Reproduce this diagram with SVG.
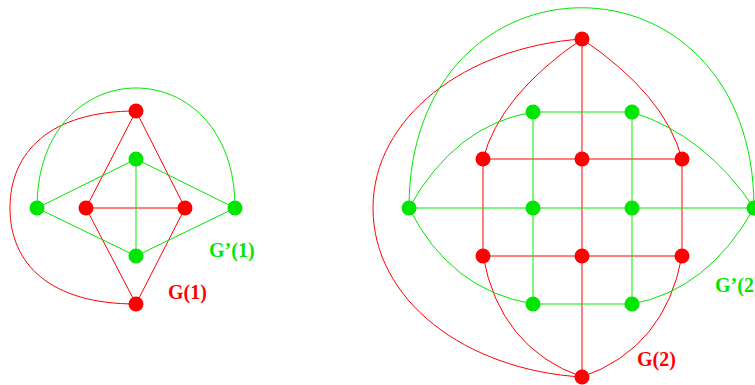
<svg xmlns="http://www.w3.org/2000/svg" width="755" height="385" viewBox="0 0 755 385">
<style>
.r{stroke:#ff0000;fill:none;stroke-width:1}
.g{stroke:#00e600;fill:none;stroke-width:1}
.rn{fill:#ff0000}
.gn{fill:#00e600}
.lr{fill:#ff0000;font-family:"Liberation Serif",serif;font-weight:bold;font-size:20px}
.lg{fill:#00e600;font-family:"Liberation Serif",serif;font-weight:bold;font-size:20px}
</style>
<rect width="755" height="385" fill="#ffffff"/>
<g id="connectors">
<!-- G(1) red -->
<path class="r" d="M136,111 L86,208 L136,304 L185,208 Z M86,208 L185,208"/>
<path class="r" d="M136,111 C50,111 10,152 10,208 C10,264 50,304 136,304"/>
<!-- G'(1) green -->
<path class="g" d="M37,208 L136,159 L235,208 L136,256 Z M136,159 L136,256"/>
<path class="g" d="M37,208 C37,48 235,48 235,208"/>
<!-- G(2) red -->
<path class="r" d="M582,39 L582,377 M483,159 L682,159 M483,256 L682,256 M483,159 L483,256 M682,159 L682,256"/>
<path class="r" d="M582,39 Q500,95 483,159 M582,39 Q665,95 682,159 M483,256 Q500,348 582,377 M682,256 Q665,348 582,377"/>
<path class="r" d="M582,39 C465,47 373,118 373,208 C373,300 465,370 582,377"/>
<!-- G'(2) green -->
<path class="g" d="M533,112 L632,112 M409,208 L754,208 M533,304 L632,304 M533,112 L533,304 M632,112 L632,304"/>
<path class="g" d="M409,208 Q455,125 533,112 M632,112 Q705,135 754,208 M409,208 Q450,290 533,304 M632,304 Q708,290 754,208"/>
<path class="g" d="M409,208 C409,-59 754,-59 754,208"/>
</g>
<g id="n1r1"><circle class="rn" cx="136" cy="111" r="7.5"/></g>
<g id="n1r2"><circle class="rn" cx="86" cy="208" r="7.5"/></g>
<g id="n1r3"><circle class="rn" cx="185" cy="208" r="7.5"/></g>
<g id="n1r4"><circle class="rn" cx="136" cy="304" r="7.5"/></g>
<g id="n1g1"><circle class="gn" cx="136" cy="159" r="7.5"/></g>
<g id="n1g2"><circle class="gn" cx="37" cy="208" r="7.5"/></g>
<g id="n1g3"><circle class="gn" cx="235" cy="208" r="7.5"/></g>
<g id="n1g4"><circle class="gn" cx="136" cy="256" r="7.5"/></g>
<g id="n2r1"><circle class="rn" cx="582" cy="39" r="7.5"/></g>
<g id="n2r2"><circle class="rn" cx="483" cy="159" r="7.5"/></g>
<g id="n2r3"><circle class="rn" cx="582" cy="159" r="7.5"/></g>
<g id="n2r4"><circle class="rn" cx="682" cy="159" r="7.5"/></g>
<g id="n2r5"><circle class="rn" cx="483" cy="256" r="7.5"/></g>
<g id="n2r6"><circle class="rn" cx="582" cy="256" r="7.5"/></g>
<g id="n2r7"><circle class="rn" cx="682" cy="256" r="7.5"/></g>
<g id="n2r8"><circle class="rn" cx="582" cy="377" r="7.5"/></g>
<g id="n2g1"><circle class="gn" cx="533" cy="112" r="7.5"/></g>
<g id="n2g2"><circle class="gn" cx="632" cy="112" r="7.5"/></g>
<g id="n2g3"><circle class="gn" cx="409" cy="208" r="7.5"/></g>
<g id="n2g4"><circle class="gn" cx="533" cy="208" r="7.5"/></g>
<g id="n2g5"><circle class="gn" cx="632" cy="208" r="7.5"/></g>
<g id="n2g6"><circle class="gn" cx="754" cy="208" r="7.5"/></g>
<g id="n2g7"><circle class="gn" cx="533" cy="304" r="7.5"/></g>
<g id="n2g8"><circle class="gn" cx="632" cy="304" r="7.5"/></g>
<g id="labels">
<text class="lg" x="209" y="257">G’(1)</text>
<text class="lr" x="168" y="299">G(1)</text>
<text class="lg" x="715" y="292">G’(2)</text>
<text class="lr" x="637" y="366">G(2)</text>
</g>
</svg>
